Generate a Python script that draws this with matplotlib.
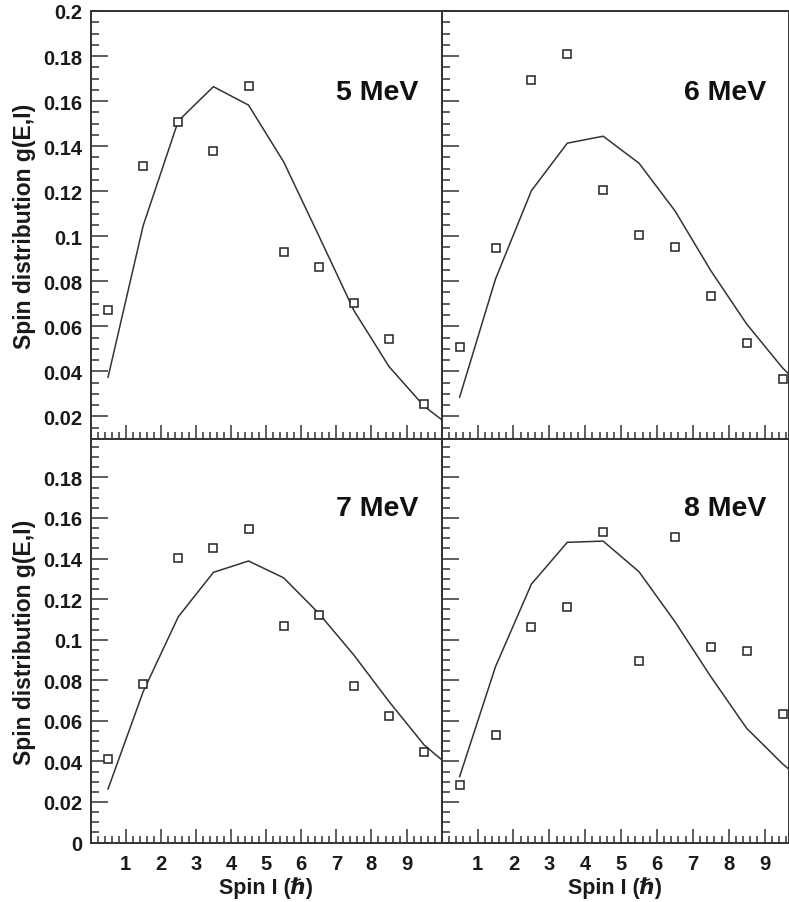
import matplotlib
matplotlib.use("Agg")
import matplotlib.pyplot as plt
from matplotlib.ticker import MultipleLocator

plt.rcParams['font.family'] = ['Liberation Sans', 'DejaVu Sans']
plt.rcParams['font.weight'] = 'bold'

spin = [0.5, 1.5, 2.5, 3.5, 4.5, 5.5, 6.5, 7.5, 8.5, 9.5]
spin_model = [0.5, 1.5, 2.5, 3.5, 4.5, 5.5, 6.5, 7.5, 8.5, 9.5, 10.5]

energies = ["5 MeV", "6 MeV", "7 MeV", "8 MeV"]

data_5 = [0.0673, 0.1313, 0.1505, 0.1378, 0.1665, 0.0929, 0.0863, 0.0704, 0.0543, 0.0253]
model_5 = [0.0374, 0.1047, 0.1512, 0.1664, 0.1582, 0.1330, 0.1002, 0.0670, 0.0421, 0.0245, 0.0125]

data_6 = [0.0506, 0.0946, 0.1694, 0.1811, 0.1206, 0.1007, 0.0952, 0.0736, 0.0525, 0.0367]
model_6 = [0.0285, 0.0810, 0.1202, 0.1413, 0.1444, 0.1324, 0.1113, 0.0847, 0.0610, 0.0415, 0.0260]

data_7 = [0.0411, 0.0780, 0.1401, 0.1450, 0.1548, 0.1066, 0.1122, 0.0773, 0.0626, 0.0445]
model_7 = [0.0264, 0.0744, 0.1113, 0.1332, 0.1388, 0.1305, 0.1130, 0.0924, 0.0695, 0.0481, 0.0335]

data_8 = [0.0284, 0.0530, 0.1062, 0.1161, 0.1530, 0.0897, 0.1504, 0.0966, 0.0943, 0.0634]
model_8 = [0.0325, 0.0867, 0.1274, 0.1480, 0.1486, 0.1335, 0.1089, 0.0818, 0.0563, 0.0388, 0.0240]

xticks = [1, 2, 3, 4, 5, 6, 7, 8, 9]
yticks_top = [0.02, 0.04, 0.06, 0.08, 0.1, 0.12, 0.14, 0.16, 0.18, 0.2]
yticks_bottom = [0, 0.02, 0.04, 0.06, 0.08, 0.1, 0.12, 0.14, 0.16, 0.18]
ytick_labels_top = ["0.02", "0.04", "0.06", "0.08", "0.1", "0.12", "0.14", "0.16", "0.18", "0.2"]
ytick_labels_bottom = ["0", "0.02", "0.04", "0.06", "0.08", "0.1", "0.12", "0.14", "0.16", "0.18"]

W, H = 789, 903
fig = plt.figure(figsize=(W / 100, H / 100), dpi=100)

x_left0, x_mid, x_right = 90.5, 441.7, 789
y_top, y_mid, y_bot = 12, 440.3, 843.5

def frac(l, r, t, b):
    return [l / W, (H - b) / H, (r - l) / W, (b - t) / H]

panels = [
    (frac(x_left0, x_mid, y_top, y_mid), data_5, model_5, energies[0], (0, 10), (0.0098, 0.2), True, False),
    (frac(x_mid, x_right, y_top, y_mid), data_6, model_6, energies[1], (0, 9.68), (0.0098, 0.2), False, False),
    (frac(x_left0, x_mid, y_mid, y_bot), data_7, model_7, energies[2], (0, 10), (0, 0.1988), True, True),
    (frac(x_mid, x_right, y_mid, y_bot), data_8, model_8, energies[3], (0, 9.68), (0, 0.1988), False, True),
]

for rect, dvals, mvals, label, xl, yl, show_y, show_x in panels:
    ax = fig.add_axes(rect)
    ax.plot(spin_model, mvals, color='#333333', lw=1.1, clip_on=True)
    ax.plot(spin, dvals, ls='none', marker='s', ms=6.4, mfc='white', mec='#222222', mew=1.1)
    ax.set_xlim(*xl)
    ax.set_ylim(*yl)
    ax.xaxis.set_major_locator(MultipleLocator(1))
    ax.xaxis.set_minor_locator(MultipleLocator(0.2))
    ax.yaxis.set_major_locator(MultipleLocator(0.02))
    ax.yaxis.set_minor_locator(MultipleLocator(0.005))
    ax.tick_params(axis='both', which='both', direction='in', top=False, right=False,
                   color='#333333', width=1.1)
    ax.tick_params(axis='x', which='major', length=10)
    ax.tick_params(axis='x', which='minor', length=5)
    ax.tick_params(axis='y', which='major', length=12)
    ax.tick_params(axis='y', which='minor', length=6)
    for s in ax.spines.values():
        s.set_linewidth(1.4)
        s.set_color('#333333')
    if show_y:
        if show_x:
            ax.set_yticks(yticks_bottom, ytick_labels_bottom)
        else:
            ax.set_yticks(yticks_top, ytick_labels_top)
        ax.tick_params(axis='y', labelsize=14.5, pad=6)
        for t in ax.get_yticklabels():
            t.set_fontweight('bold')
            t.set_color('#1a1a1a')
    else:
        ax.tick_params(axis='y', labelleft=False)
    if show_x:
        ax.set_xticks(xticks, [str(v) for v in xticks])
        ax.tick_params(axis='x', labelsize=14.5, pad=8)
        for t in ax.get_xticklabels():
            t.set_fontweight('bold')
            t.set_color('#1a1a1a')
        ax.set_xlabel("Spin I (ℏ)", fontsize=15.5, fontweight='bold', labelpad=3, color='#1a1a1a')
    else:
        ax.tick_params(axis='x', labelbottom=False)
    ax.text(0.935, 0.81 if not show_x else 0.83, label, transform=ax.transAxes,
            ha='right', va='center', fontsize=20.5, fontweight='bold', color='#111111')

for yc in [(y_top + y_mid) / 2, (y_mid + y_bot) / 2]:
    fig.text(25 / W, (H - yc) / H, "Spin distribution g(E,I)", rotation=90,
             ha='center', va='center', fontsize=16.5, fontweight='bold', color='#1a1a1a')

fig.savefig("out.png", dpi=100)
